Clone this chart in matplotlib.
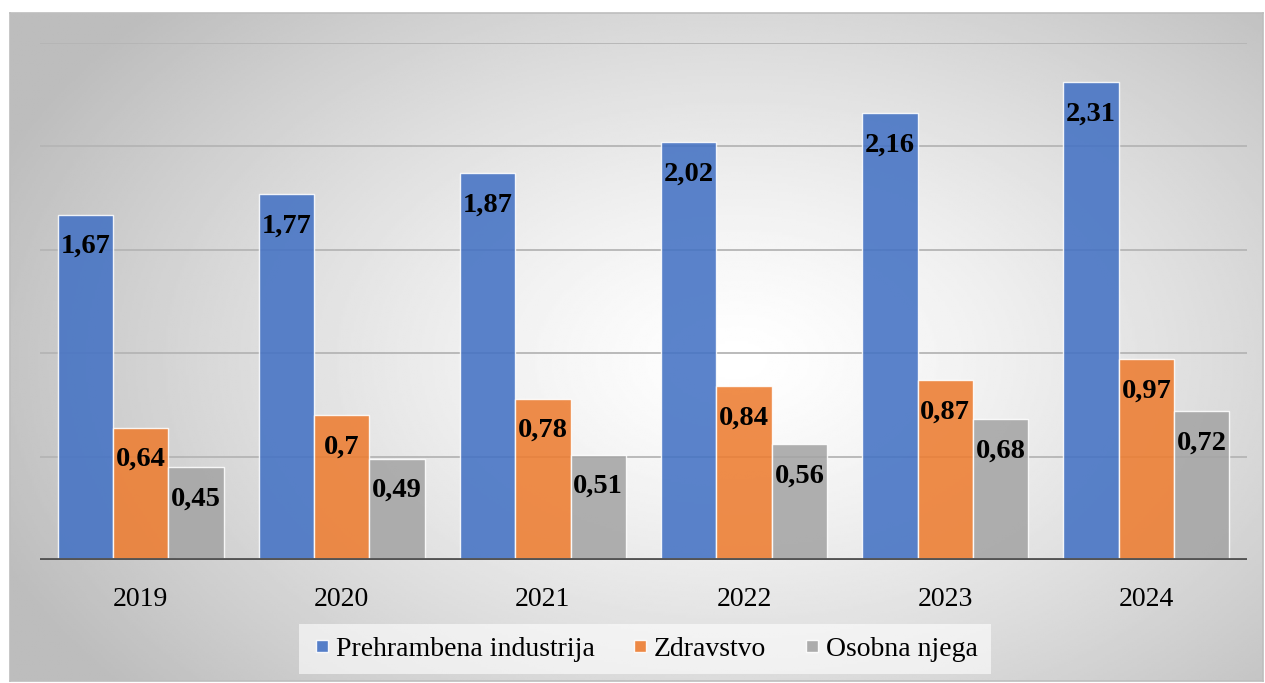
import matplotlib.pyplot as plt
import numpy as np
from matplotlib.lines import Line2D

# podaci s grafa
godine = ['2019', '2020', '2021', '2022', '2023', '2024']
prehrambena = [1.67, 1.77, 1.87, 2.02, 2.16, 2.31]
zdravstvo = [0.64, 0.70, 0.78, 0.84, 0.87, 0.97]
osobna_njega = [0.45, 0.49, 0.51, 0.56, 0.68, 0.72]
serije = ['Prehrambena industrija', 'Zdravstvo', 'Osobna njega']
boje = ['#4472C4', '#ED7D31', '#A5A5A5']

W, H = 1265, 683
fig = plt.figure(figsize=(W / 100, H / 100), dpi=100)
fig.patch.set_facecolor('white')

"""pozadina s radijalnim gradijentom"""
bg = fig.add_axes([10 / W, 2 / H, 1253 / W, 668 / H])
yy, xx = np.mgrid[0:1:300j, 0:1:600j]
r = np.sqrt(((xx - 0.58) / 0.62) ** 2 + ((yy - 0.52) / 0.75) ** 2)
val = np.clip(1.0 - 0.25 * r ** 1.3, 0.74, 1.0)
bg.imshow(val, cmap='gray', vmin=0, vmax=1, aspect='auto', extent=[0, 1, 0, 1])
bg.set_xticks([])
bg.set_yticks([])
for s in bg.spines.values():
    s.set_color('#bdbdbd')
    s.set_linewidth(1.2)

ax = fig.add_axes([40 / W, 1 - 560 / H, 1207 / W, 517 / H])
ax.patch.set_alpha(0)
x = np.arange(len(godine))
w = 0.275
for i, (vals, boja) in enumerate(zip([prehrambena, zdravstvo, osobna_njega], boje)):
    pos = x + (i - 1) * w
    ax.bar(pos, vals, w, color=boja, alpha=0.88, edgecolor=(1, 1, 1, 0.6), linewidth=1, zorder=2)
    for px, v in zip(pos, vals):
        txt = ('%.2f' % v).rstrip('0').replace('.', ',')
        ax.annotate(txt, (px, v), xytext=(0, -23), textcoords='offset points', ha='center', va='center',
                    fontsize=20.5, fontweight='bold', family='Liberation Serif', color='black', zorder=4)

ax.set_ylim(0, 2.5)
ax.set_xlim(-0.5, len(godine) - 0.5)
ax.set_yticks([0.5, 1.0, 1.5, 2.0, 2.5])
ax.yaxis.grid(True, color='#b5b5b5', linewidth=1.3, zorder=1)
ax.set_axisbelow(True)
ax.tick_params(axis='y', left=False, labelleft=False)
ax.set_xticks(x)
ax.set_xticklabels(godine, fontsize=20, family='Liberation Serif')
ax.tick_params(axis='x', length=0, pad=19.5)
for s in ax.spines.values():
    s.set_visible(False)
ax.axhline(0, color='#545454', linewidth=3.5, zorder=3)

handles = [Line2D([], [], marker='s', linestyle='none', markersize=9, markerfacecolor=b,
                  markeredgecolor=(1, 1, 1, 0.6), alpha=0.9) for b in boje]
leg = fig.legend(handles, serije, loc='center', bbox_to_anchor=(645 / W, 1 - 649 / H), ncol=3,
                 frameon=True, prop={'family': 'Liberation Serif', 'size': 20}, handletextpad=0.15,
                 columnspacing=1.3, borderpad=0.45, handlelength=0.7)
leg.get_frame().set_facecolor('white')
leg.get_frame().set_alpha(0.6)
leg.get_frame().set_edgecolor('none')
leg.get_frame().set_boxstyle('square', pad=0)

fig.savefig('out.png', dpi=100)
